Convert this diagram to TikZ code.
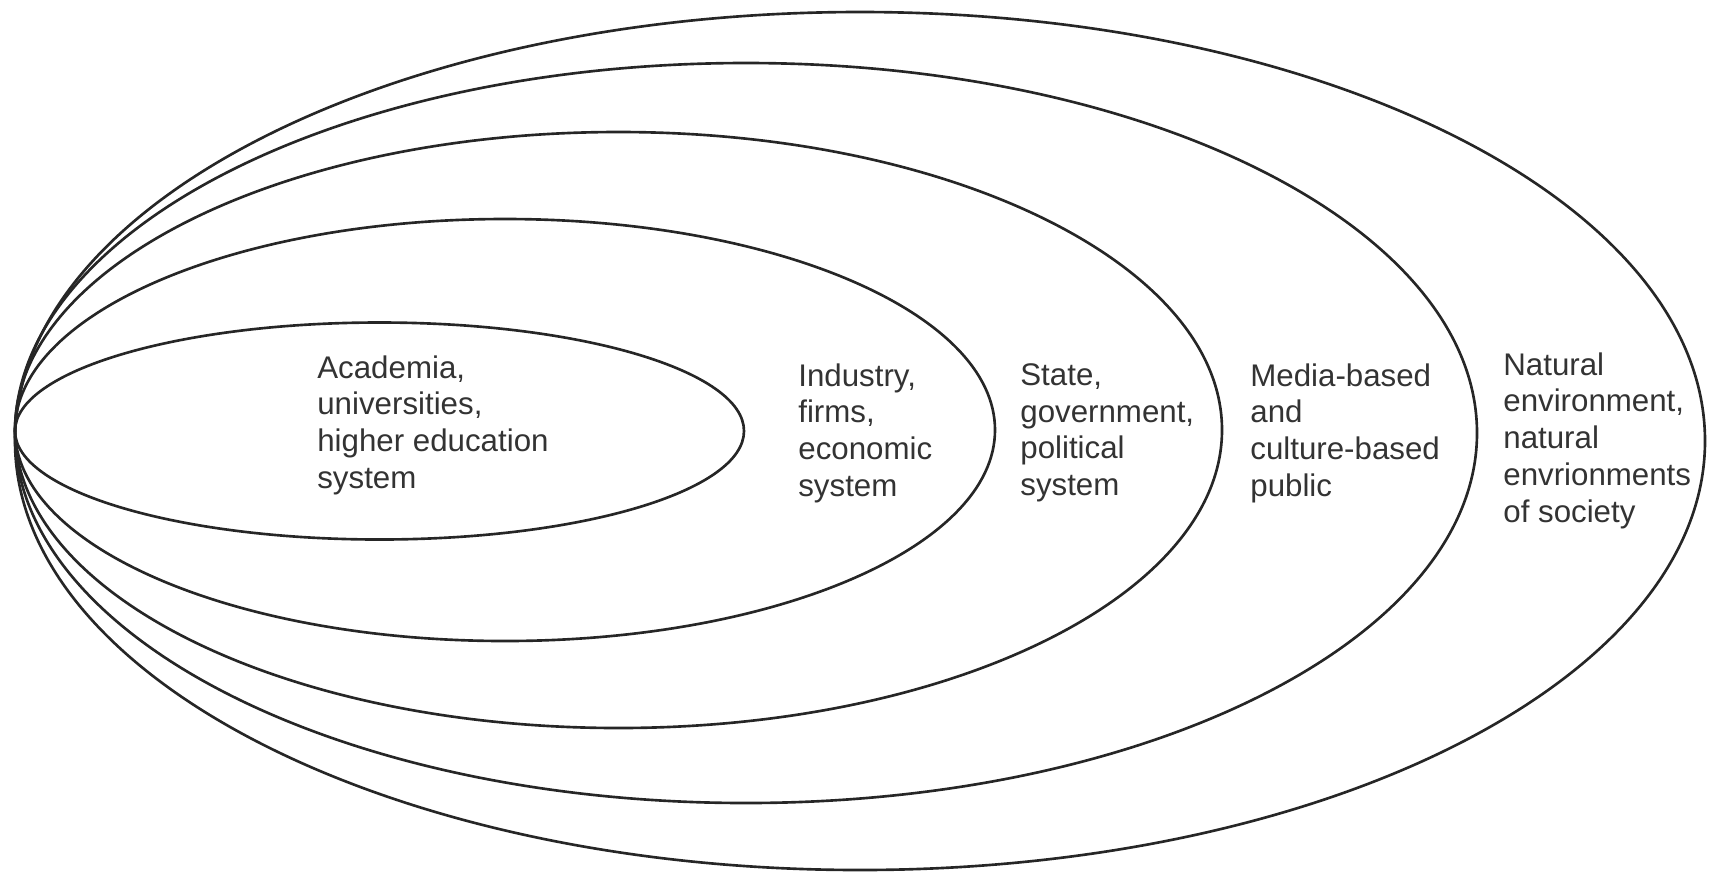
\documentclass[tikz,border=0pt]{standalone}
\usepackage{fontspec}
\setmainfont{Liberation Sans}
\begin{document}
\begin{tikzpicture}[x=0.02cm,y=-0.02cm,
  ring/.style={draw=black!85, line width=1.5pt},
  lbl/.style={anchor=north west, inner sep=0pt, align=left, text=black!80,
    font=\fontsize{17.8pt}{21pt}\selectfont}]
\useasboundingbox (0,0) rectangle (1713,877);
% nested ellipses, all tangent at the left point
\draw[ring] (860,441) ellipse [x radius=845, y radius=429];
\draw[ring] (746,433) ellipse [x radius=731, y radius=370];
\draw[ring] (618.5,430) ellipse [x radius=603.5, y radius=298];
\draw[ring] (505,430) ellipse [x radius=490, y radius=211];
\draw[ring] (379.5,431) ellipse [x radius=364.5, y radius=108.5];
% labels
\node[lbl] (acad) at (317,355) {Academia,\\universities,\\higher education\\system};
\node[lbl] (ind) at (798,363) {Industry,\\firms,\\economic\\system};
\node[lbl] (state) at (1020,363) {State,\\government,\\political\\system};
\node[lbl] (media) at (1250,363) {Media-based\\and\\culture-based\\public};
\node[lbl] (nat) at (1503,352) {Natural\\environment,\\natural\\envrionments\\of society};
\end{tikzpicture}
\end{document}
